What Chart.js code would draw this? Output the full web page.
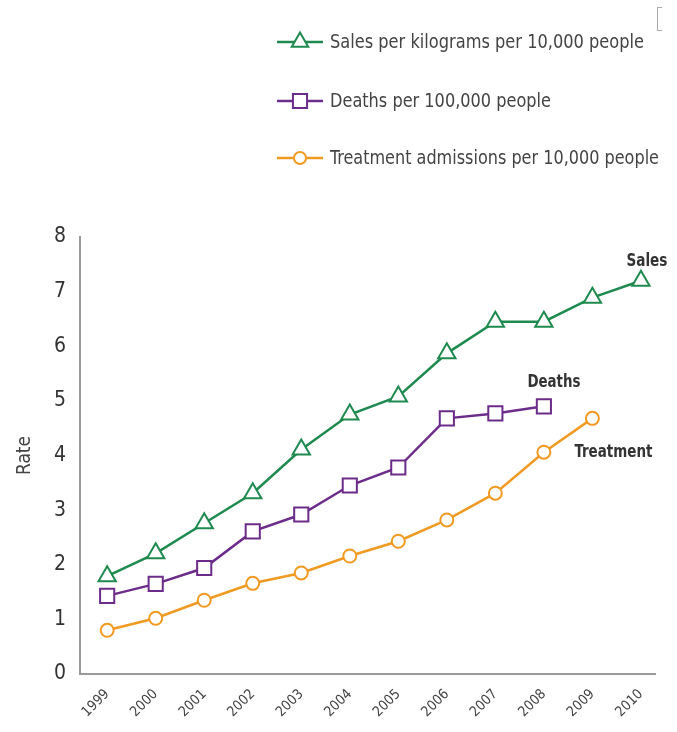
<!DOCTYPE html>
<html><head><meta charset="utf-8">
<script src="https://cdn.jsdelivr.net/npm/chart.js@4/dist/chart.umd.min.js"></script>
<style>
html,body{margin:0;padding:0;background:#fff;}
#wrap{position:relative;width:677px;height:732px;}
.brk{position:absolute;left:657px;top:7px;width:4px;height:22px;border:1.5px solid #aaa;border-right:none;}
</style>
</head><body>
<div id="wrap"><canvas id="c" width="677" height="732"></canvas><div class="brk"></div></div>
<script>
// ---- data ----
const years = [1999,2000,2001,2002,2003,2004,2005,2006,2007,2008,2009,2010];
const salesPerKg10k   = [1.79,2.21,2.76,3.31,4.11,4.75,5.08,5.87,6.45,6.45,6.89,7.20];
const deathsPer100k   = [1.43,1.65,1.94,2.61,2.92,3.45,3.78,4.68,4.77,4.90];
const treatmentPer10k = [0.80,1.02,1.35,1.66,1.85,2.16,2.43,2.82,3.31,4.06,4.68];
const yTickValues = [0,1,2,3,4,5,6,7,8];
const seriesNames = ['Sales per kilograms per 10,000 people','Deaths per 100,000 people','Treatment admissions per 10,000 people'];
const endLabels = ['Sales','Deaths','Treatment'];

const FONT = "'Liberation Sans Narrow','DejaVu Sans Condensed','Liberation Sans',sans-serif";
Chart.defaults.font.family = FONT;

const colors = ['#1f8a4f','#6c2c8a','#f09a22'];
const styles = ['triangle','rect','circle'];
const radii  = [10,10,6.5];

function pts(arr){ return arr.map((v,i)=>({x:years[i], y:v})); }

function drawMarker(ctx, style, x, y, r){
  ctx.beginPath();
  if(style==='circle'){ ctx.arc(x,y,r,0,Math.PI*2); }
  else if(style==='rect'){ const s=r*Math.SQRT1_2; ctx.rect(x-s,y-s,2*s,2*s); }
  else { for(let k=0;k<3;k++){const a=k*2*Math.PI/3; const px=x+Math.sin(a)*r, py=y-Math.cos(a)*r; k?ctx.lineTo(px,py):ctx.moveTo(px,py);} ctx.closePath(); }
  ctx.fill(); ctx.stroke();
}

const legendPlugin = {
  id:'customLegend',
  afterDraw(chart){
    const ctx = chart.ctx; const ys=[42,101,158]; const maxW=[314,221,329];
    chart.data.datasets.forEach((ds,i)=>{
      const y=ys[i];
      ctx.save();
      ctx.strokeStyle=ds.borderColor; ctx.lineWidth=2.5;
      ctx.beginPath(); ctx.moveTo(277,y); ctx.lineTo(323,y); ctx.stroke();
      ctx.fillStyle='#fff'; ctx.lineWidth=2;
      drawMarker(ctx, ds.pointStyle, 300, y, i===2?6:(i===0?9.5:10));
      ctx.fillStyle='#444'; ctx.font="20px "+FONT; ctx.textBaseline='middle'; ctx.textAlign='left';
      ctx.fillText(ds.label, 330, y+1, maxW[i]);
      ctx.restore();
    });
  }
};

const endLabelPlugin = {
  id:'endLabels',
  afterDatasetsDraw(chart, args, opts){
    const ctx = chart.ctx;
    chart.data.datasets.forEach((ds,i)=>{
      const meta = chart.getDatasetMeta(i);
      const el = meta.data[meta.data.length-1];
      const off = opts.offsets[i];
      ctx.save();
      ctx.fillStyle='#333'; ctx.font="bold 17px "+FONT; ctx.textAlign='center'; ctx.textBaseline='middle';
      ctx.fillText(endLabels[i], el.x+off[0], el.y+off[1], opts.widths[i]);
      ctx.restore();
    });
  }
};

const series = [salesPerKg10k, deathsPer100k, treatmentPer10k];
new Chart(document.getElementById('c'), {
  type:'line',
  data:{
    datasets: series.map((arr,i)=>({
      label: seriesNames[i],
      data: pts(arr),
      borderColor: colors[i],
      backgroundColor: '#fff',
      pointBackgroundColor: '#fff',
      pointBorderColor: colors[i],
      pointStyle: styles[i],
      pointRadius: radii[i],
      pointBorderWidth: 2,
      borderWidth: 2.5,
      tension: 0,
      fill: false
    }))
  },
  options:{
    responsive:false,
    devicePixelRatio:1,
    animation:false,
    layout:{padding:{top:237,right:22,bottom:0,left:0}},
    plugins:{
      legend:{display:false},
      tooltip:{enabled:false},
      endLabels:{offsets:[[6,-19],[10,-24],[21,34]], widths:[41,53,78]}
    },
    scales:{
      x:{
        type:'linear', min:1998.44, max:2010.29,
        afterBuildTicks(scale){ scale.ticks = years.map(v=>({value:v})); },
        afterFit(scale){ scale.height = 58; },
        grid:{display:false, drawTicks:false},
        border:{display:true, color:'#9a9a9a', width:2},
        ticks:{minRotation:45, maxRotation:45, padding:12, color:'#444', font:{size:14},
          callback:(v)=>String(v)}
      },
      y:{
        min:0, max:8,
        afterBuildTicks(scale){ scale.ticks = yTickValues.map(v=>({value:v})); },
        afterFit(scale){ scale.width = 80; },
        grid:{display:false, drawTicks:false},
        border:{display:true, color:'#9a9a9a', width:2},
        ticks:{padding:14, color:'#333', font:{size:21}, callback:(v)=>String(v)},
        title:{display:true, text:'Rate', color:'#444', font:{size:19}, padding:{top:14,bottom:0}}
      }
    }
  },
  plugins:[legendPlugin, endLabelPlugin]
});
</script>
</body></html>
